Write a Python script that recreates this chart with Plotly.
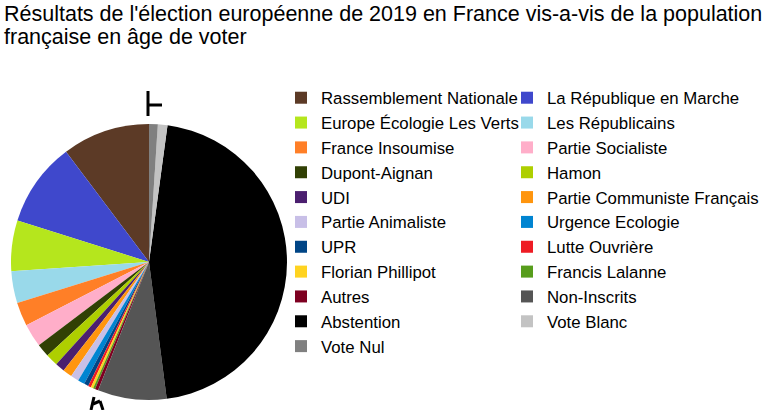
import plotly.graph_objects as go

labels = [
    "Rassemblement Nationale", "La République en Marche",
    "Europe Écologie Les Verts", "Les Républicains",
    "France Insoumise", "Partie Socialiste",
    "Dupont-Aignan", "Hamon",
    "UDI", "Partie Communiste Français",
    "Partie Animaliste", "Urgence Ecologie",
    "UPR", "Lutte Ouvrière",
    "Florian Phillipot", "Francis Lalanne",
    "Autres", "Non-Inscrits",
    "Abstention", "Vote Blanc",
    "Vote Nul",
]
values = [
    5286939, 5079015,
    3055023, 1920407,
    1428548, 1403170,
    795311, 741212,
    566746, 564949,
    490074, 412442,
    265469, 176339,
    147140, 121201,
    200179, 4150000,
    23587198, 577217,
    526144,
]
colors = [
    "#5c3a26", "#3f48cc",
    "#b5e61d", "#99d9ea",
    "#ff7f27", "#ffaec9",
    "#314004", "#aecf00",
    "#4b1f6f", "#ff950e",
    "#c8bfe7", "#0084d1",
    "#004586", "#ee1c24",
    "#ffd320", "#579d1c",
    "#7e0021", "#555555",
    "#000000", "#c3c3c3",
    "#808080",
]
title_lines = [
    "Résultats de l'élection européenne de 2019 en France vis-a-vis de la population",
    "française en âge de voter",
]

W, H = 768, 410
MR = 150                 # right margin -> plot area width drives 2-column legend wrap
PW = W - MR
cx, cy, r = 149, 262, 138

# first slice starts at 12 o'clock and runs counterclockwise
first_angle = 360.0 * values[0] / sum(values)

fig = go.Figure(go.Pie(
    labels=labels,
    values=values,
    marker=dict(colors=colors, line=dict(width=0)),
    sort=False,
    direction="counterclockwise",
    rotation=-first_angle,
    textinfo="none",
    hoverinfo="label+value",
    domain=dict(x=[(cx - r) / PW, (cx + r) / PW],
                y=[(H - cy - r) / H, (H - cy + r) / H]),
))

FONT = "Liberation Sans, Arial, sans-serif"
fig.update_layout(
    width=W, height=H,
    margin=dict(l=0, r=MR, t=0, b=0, autoexpand=False),
    paper_bgcolor="white",
    plot_bgcolor="white",
    font=dict(family=FONT, color="#000000"),
    showlegend=True,
    legend=dict(
        orientation="h",
        x=281 / PW, y=1 - 79 / H,
        xanchor="left", yanchor="top",
        entrywidth=181, entrywidthmode="pixels",
        maxheight=400,
        font=dict(size=16.8, family=FONT, color="#000000"),
        itemclick=False,
        tracegroupgap=0,
        bgcolor="rgba(0,0,0,0)",
        # invisible, hair-thin title only widens the legend box so the
        # right column is not clipped
        title=dict(text="M" * 578, side="top",
                   font=dict(size=1, color="rgba(0,0,0,0)")),
    ),
    annotations=[
        dict(text=t, x=2 / PW, y=1 - (0 + 23 * i) / H, xref="paper", yref="paper",
             xanchor="left", yanchor="top", align="left", showarrow=False,
             font=dict(size=21.5, family=FONT, color="#000000"))
        for i, t in enumerate(title_lines)
    ],
)

def px(x, y):
    return x / PW, 1 - y / H

line = dict(color="black", width=3)
shapes = []
for (x0, y0, x1, y1) in [
    (148, 91, 148, 116), (148, 105, 162, 105),
    (94, 397, 91, 410), (93, 404, 100, 401), (100, 401, 103, 410),
]:
    a, b = px(x0, y0)
    c, d = px(x1, y1)
    shapes.append(dict(type="line", xref="paper", yref="paper",
                       x0=a, y0=b, x1=c, y1=d, line=line))
fig.update_layout(shapes=shapes)

fig.write_html("out.html", config={"displayModeBar": False},
               post_script="document.body.style.margin='0';")
